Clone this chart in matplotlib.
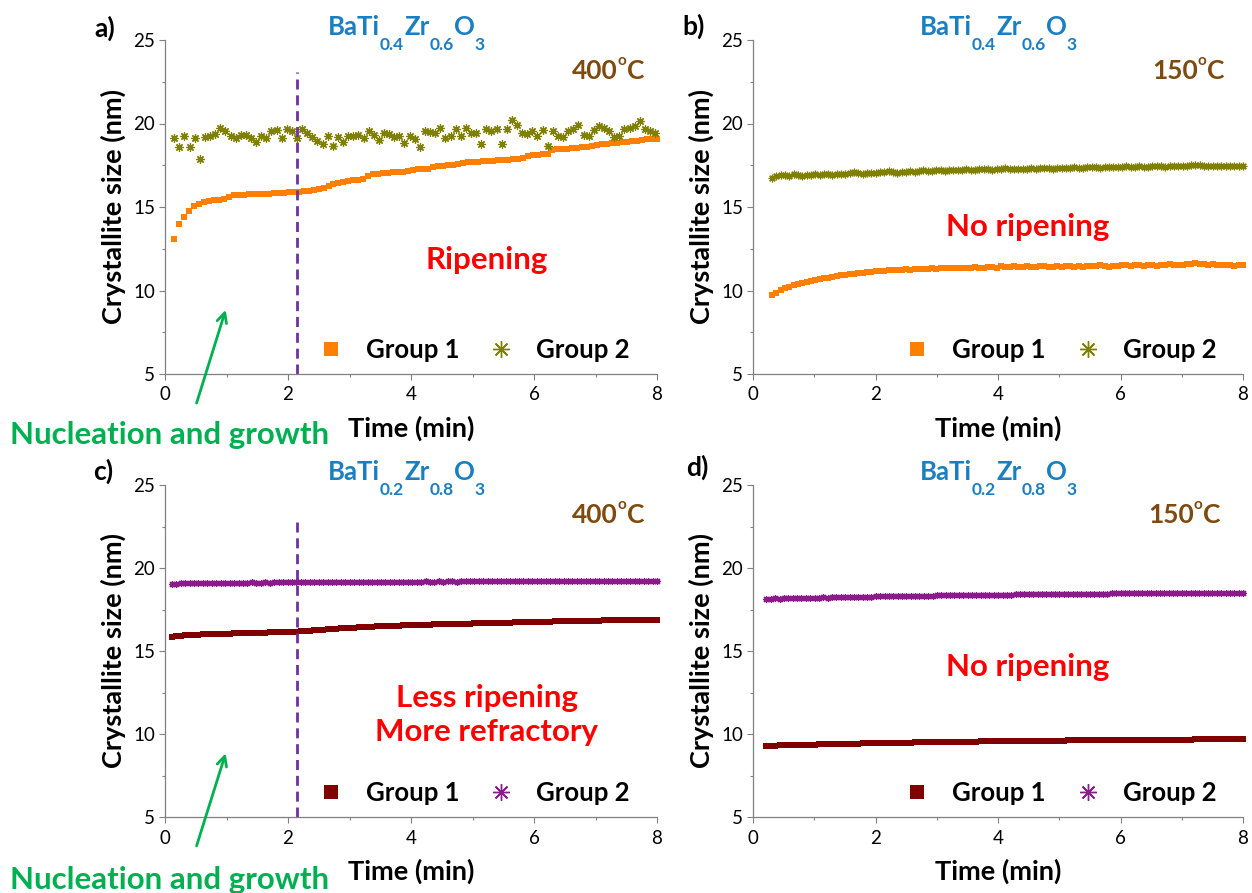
import matplotlib
matplotlib.use("Agg")
import matplotlib.pyplot as plt
import numpy as np

plt.rcParams['font.family'] = ['Lato', 'DejaVu Sans']

# ---- data: crystallite size (nm) vs time (min) ----
# a) BaTi0.4Zr0.6O3, 400 C
a_g1 = [13.07, 14.0, 14.38, 14.76, 15.08, 15.2, 15.3, 15.35, 15.4, 15.44,
        15.48, 15.62, 15.7, 15.72, 15.74, 15.75, 15.76, 15.78, 15.79, 15.8,
        15.82, 15.84, 15.86, 15.88, 15.9, 15.92, 15.95, 15.98, 16.0, 16.05,
        16.12, 16.25, 16.35, 16.45, 16.5, 16.55, 16.6, 16.63, 16.7, 16.85,
        16.97, 17.0, 17.02, 17.05, 17.07, 17.1, 17.12, 17.15, 17.2, 17.25,
        17.28, 17.3, 17.42, 17.45, 17.47, 17.5, 17.52, 17.55, 17.65, 17.68,
        17.7, 17.72, 17.74, 17.76, 17.78, 17.8, 17.82, 17.84, 17.86, 17.9,
        17.95, 18.05, 18.1, 18.12, 18.15, 18.2, 18.4, 18.45, 18.48, 18.5,
        18.53, 18.56, 18.58, 18.6, 18.63, 18.72, 18.78, 18.8, 18.83, 18.86,
        18.9, 18.92, 18.95, 18.98, 19.02, 19.05, 19.08, 19.1]
a_g2 = [19.14, 18.6, 19.28, 18.6, 19.14, 17.85, 19.2, 19.28, 19.4, 19.74,
        19.54, 19.24, 19.14, 19.34, 19.34, 19.14, 18.88, 19.28, 19.14, 19.54,
        19.6, 19.14, 19.68, 19.54, 19.14, 19.68, 19.44, 19.2, 18.94, 18.75,
        19.24, 18.65, 19.2, 18.88, 19.28, 19.24, 19.34, 19.14, 19.54, 19.34,
        19.04, 19.44, 19.4, 19.2, 19.28, 18.84, 19.28, 19.08, 18.6, 19.54,
        19.48, 19.44, 19.74, 19.14, 19.24, 19.68, 19.28, 19.74, 19.44, 19.44,
        18.75, 19.68, 19.54, 19.68, 18.75, 19.68, 20.2, 19.94, 19.44, 19.4,
        19.54, 19.28, 19.64, 18.68, 19.54, 19.28, 19.2, 19.54, 19.68, 19.94,
        19.34, 19.28, 19.64, 19.84, 19.74, 19.54, 19.2, 19.28, 19.68, 19.74,
        19.84, 20.14, 19.68, 19.54, 19.44]
a_t1 = np.linspace(0.15, 8.0, len(a_g1))
a_t2 = np.linspace(0.15, 7.97, len(a_g2))

# b) BaTi0.4Zr0.6O3, 150 C
b_g1 = [9.72, 9.88, 10.02, 10.12, 10.22, 10.3, 10.38, 10.44, 10.52, 10.56,
        10.62, 10.68, 10.72, 10.76, 10.8, 10.86, 10.9, 10.93, 10.96, 11.0,
        11.05, 11.04, 11.1, 11.12, 11.14, 11.16, 11.15, 11.2, 11.22, 11.2,
        11.24, 11.26, 11.25, 11.28, 11.3, 11.27, 11.3, 11.32, 11.28, 11.33,
        11.35, 11.32, 11.36, 11.34, 11.37, 11.35, 11.33, 11.38, 11.36, 11.34,
        11.38, 11.4, 11.36, 11.44, 11.42, 11.38, 11.45, 11.43, 11.4, 11.46,
        11.42, 11.4, 11.44, 11.46, 11.41, 11.43, 11.45, 11.4, 11.44, 11.47,
        11.43, 11.46, 11.42, 11.48, 11.45, 11.44, 11.5, 11.46, 11.43, 11.47,
        11.45, 11.5, 11.55, 11.47, 11.52, 11.5, 11.46, 11.52, 11.5, 11.48,
        11.53, 11.5, 11.56, 11.52, 11.5, 11.55, 11.58, 11.6, 11.62, 11.58,
        11.6, 11.55, 11.58, 11.54, 11.52, 11.55, 11.5, 11.48, 11.52, 11.5]
b_g2 = [16.75, 16.85, 16.9, 16.92, 16.88, 16.95, 16.93, 16.86, 16.9, 16.94,
        16.96, 16.92, 16.95, 16.98, 16.94, 16.97, 17.0, 16.96, 17.04, 17.08,
        17.02, 17.0, 17.04, 17.06, 17.03, 17.07, 17.1, 17.15, 17.1, 17.06,
        17.1, 17.12, 17.14, 17.1, 17.16, 17.2, 17.18, 17.15, 17.2, 17.22,
        17.18, 17.2, 17.24, 17.2, 17.22, 17.26, 17.24, 17.22, 17.25, 17.28,
        17.26, 17.24, 17.28, 17.3, 17.32, 17.3, 17.28, 17.3, 17.27, 17.3,
        17.32, 17.3, 17.33, 17.35, 17.32, 17.3, 17.34, 17.36, 17.33, 17.35,
        17.38, 17.36, 17.34, 17.37, 17.4, 17.38, 17.36, 17.4, 17.42, 17.4,
        17.38, 17.41, 17.43, 17.4, 17.42, 17.44, 17.42, 17.4, 17.43, 17.45,
        17.44, 17.42, 17.45, 17.48, 17.46, 17.44, 17.47, 17.5, 17.52, 17.5,
        17.48, 17.46, 17.47, 17.45, 17.46, 17.44, 17.46, 17.45, 17.44, 17.46]
b_t = np.linspace(0.31, 8.0, len(b_g1))

# c) BaTi0.2Zr0.8O3, 400 C
c_g1 = [15.82, 15.88, 15.92, 15.95, 15.97, 15.98, 15.99, 16.0, 16.01, 16.02,
        16.03, 16.04, 16.04, 16.05, 16.06, 16.07, 16.07, 16.08, 16.09, 16.1,
        16.1, 16.11, 16.12, 16.13, 16.13, 16.14, 16.15, 16.16, 16.17, 16.18,
        16.2, 16.22, 16.24, 16.26, 16.28, 16.3, 16.32, 16.34, 16.36, 16.38,
        16.4, 16.41, 16.42, 16.44, 16.45, 16.46, 16.48, 16.49, 16.5, 16.51,
        16.52, 16.53, 16.54, 16.55, 16.56, 16.57, 16.58, 16.58, 16.59, 16.6,
        16.61, 16.61, 16.62, 16.63, 16.63, 16.64, 16.65, 16.65, 16.66, 16.67,
        16.67, 16.68, 16.69, 16.69, 16.7, 16.71, 16.71, 16.72, 16.73, 16.73,
        16.74, 16.75, 16.75, 16.76, 16.77, 16.77, 16.78, 16.78, 16.79, 16.8,
        16.8, 16.81, 16.81, 16.82, 16.82, 16.83, 16.83, 16.84, 16.84, 16.85,
        16.85, 16.86, 16.86, 16.86, 16.87, 16.87, 16.88, 16.88, 16.88, 16.89]
c_g2 = [19.04, 19.06, 19.08, 19.07, 19.09, 19.1, 19.08, 19.1, 19.11, 19.1,
        19.1, 19.11, 19.12, 19.1, 19.11, 19.12, 19.11, 19.12, 19.13, 19.12,
        19.12, 19.13, 19.12, 19.13, 19.14, 19.13, 19.14, 19.13, 19.14, 19.15,
        19.14, 19.15, 19.14, 19.15, 19.15, 19.16, 19.15, 19.16, 19.15, 19.16,
        19.16, 19.17, 19.16, 19.16, 19.17, 19.16, 19.17, 19.17, 19.18, 19.17,
        19.17, 19.18, 19.17, 19.18, 19.18, 19.17, 19.18, 19.19, 19.18, 19.18,
        19.19, 19.18, 19.19, 19.19, 19.18, 19.19, 19.2, 19.19, 19.19, 19.2,
        19.19, 19.2, 19.2, 19.19, 19.2, 19.21, 19.2, 19.2, 19.21, 19.2,
        19.21, 19.2, 19.21, 19.21, 19.2, 19.21, 19.22, 19.21, 19.21, 19.22,
        19.21, 19.22, 19.21, 19.22, 19.22, 19.21, 19.22, 19.23, 19.22, 19.22,
        19.23, 19.22, 19.23, 19.22, 19.23, 19.23, 19.22, 19.23, 19.24, 19.23]
c_t = np.linspace(0.11, 8.0, len(c_g1))

# d) BaTi0.2Zr0.8O3, 150 C
d_g1 = [9.28, 9.29, 9.3, 9.31, 9.31, 9.32, 9.33, 9.33, 9.34, 9.35,
        9.35, 9.36, 9.37, 9.37, 9.38, 9.39, 9.39, 9.4, 9.4, 9.41,
        9.42, 9.42, 9.43, 9.43, 9.44, 9.44, 9.45, 9.45, 9.46, 9.46,
        9.47, 9.47, 9.48, 9.48, 9.49, 9.49, 9.5, 9.5, 9.5, 9.51,
        9.51, 9.52, 9.52, 9.52, 9.53, 9.53, 9.54, 9.54, 9.54, 9.55,
        9.55, 9.55, 9.56, 9.56, 9.56, 9.57, 9.57, 9.57, 9.58, 9.58,
        9.58, 9.58, 9.59, 9.59, 9.59, 9.6, 9.6, 9.6, 9.6, 9.61,
        9.61, 9.61, 9.61, 9.62, 9.62, 9.62, 9.62, 9.63, 9.63, 9.63,
        9.63, 9.63, 9.64, 9.64, 9.64, 9.64, 9.64, 9.65, 9.65, 9.65,
        9.65, 9.65, 9.66, 9.66, 9.66, 9.66, 9.66, 9.66, 9.67, 9.67,
        9.67, 9.67, 9.67, 9.67, 9.68, 9.68, 9.68, 9.68, 9.68, 9.68]
d_g2 = [18.13, 18.15, 18.17, 18.16, 18.18, 18.19, 18.18, 18.2, 18.21, 18.2,
        18.21, 18.22, 18.22, 18.23, 18.22, 18.24, 18.24, 18.25, 18.24, 18.26,
        18.26, 18.27, 18.26, 18.28, 18.28, 18.29, 18.29, 18.3, 18.29, 18.31,
        18.31, 18.32, 18.31, 18.32, 18.33, 18.33, 18.34, 18.33, 18.34, 18.35,
        18.35, 18.35, 18.36, 18.36, 18.36, 18.37, 18.37, 18.38, 18.37, 18.38,
        18.38, 18.39, 18.39, 18.39, 18.4, 18.4, 18.4, 18.41, 18.41, 18.41,
        18.42, 18.42, 18.42, 18.43, 18.43, 18.43, 18.44, 18.43, 18.44, 18.44,
        18.45, 18.44, 18.45, 18.45, 18.46, 18.45, 18.46, 18.46, 18.46, 18.47,
        18.47, 18.47, 18.47, 18.48, 18.48, 18.47, 18.48, 18.48, 18.49, 18.48,
        18.49, 18.49, 18.49, 18.5, 18.49, 18.5, 18.5, 18.5, 18.51, 18.5,
        18.51, 18.51, 18.5, 18.51, 18.52, 18.51, 18.52, 18.52, 18.51, 18.52]
d_t = np.linspace(0.22, 8.0, len(d_g1))

onset_time = 2.14      # end of nucleation & growth stage (min)

# ---- styles ----
ORANGE = '#ff8000'
OLIVE = '#808000'
DARKRED = '#800000'
PURPLE = '#8b1a8b'
BLUE = '#1a7fc1'
BROWN = '#7f4a10'
RED = '#ff0000'
GREEN = '#00b050'
STAR = (8, 2, 0)

W, H = 1252, 893
fig = plt.figure(figsize=(W / 100, H / 100), dpi=100)


def fx(px):
    return px / W


def fy(py):
    return 1 - py / H


def make_axes(left, top, right, bottom):
    ax = fig.add_axes([fx(left), fy(bottom), fx(right) - fx(left), fy(top) - fy(bottom)])
    ax.set_xlim(0, 8)
    ax.set_ylim(5, 25)
    ax.set_xticks([0, 2, 4, 6, 8])
    ax.set_xticks([1, 3, 5, 7], minor=True)
    ax.set_yticks([5, 10, 15, 20, 25])
    ax.set_yticks([7.5, 12.5, 17.5, 22.5], minor=True)
    for s in ['top', 'right']:
        ax.spines[s].set_visible(False)
    for s in ['left', 'bottom']:
        ax.spines[s].set_color('#808080')
        ax.spines[s].set_linewidth(0.9)
    ax.tick_params(which='major', direction='out', length=4, width=0.8,
                   color='#808080', labelsize=13.5, pad=3)
    ax.tick_params(which='minor', direction='out', length=2.5, width=0.8,
                   color='#808080')
    ax.tick_params(axis='x', pad=5)
    ax.set_xlabel('Time (min)', fontsize=19.5, fontweight='bold', va='top')
    ax.set_ylabel('Crystallite size (nm)', fontsize=19.5, fontweight='bold')
    ax.xaxis.set_label_coords(0.5, -0.125)
    ax.yaxis.set_label_coords(-0.08, 0.5)
    return ax


def draw_panel(ax, t1, g1, t2, g2, c1, c2, ms1, ms2):
    ax.plot(t1, g1, ls='none', marker='s', ms=ms1, color=c1, mec=c1, mew=0,
            label='Group 1', clip_on=False)
    ax.plot(t2, g2, ls='none', marker=STAR, ms=ms2, color=c2, mec=c2, mew=0.9,
            label='Group 2', clip_on=False)
    leg = ax.legend(loc='center right', ncol=2, frameon=False,
                    prop={'weight': 'bold', 'size': 18.5}, handlelength=1.0,
                    handletextpad=0.86, columnspacing=1.14, borderpad=0,
                    borderaxespad=0, bbox_to_anchor=(0.945, 0.072))
    hs = leg.legend_handles
    hs[0].set_markersize(10)
    hs[1].set_markersize(12)
    hs[1].set_markeredgewidth(1.0)


def chain(ax, x0, pieces, color):
    # lay out text pieces left to right; each piece is (text, size, baseline_px)
    prev = None
    for s, size, base in pieces:
        ybase = H - base
        if prev is None:
            prev = ax.annotate(s, xy=(x0, ybase), xycoords='figure pixels',
                               fontsize=size, fontweight='bold', color=color,
                               ha='left', va='baseline', annotation_clip=False)
        else:
            prev = ax.annotate(s, xy=(1, ybase), xycoords=(prev, 'figure pixels'),
                               fontsize=size, fontweight='bold', color=color,
                               ha='left', va='baseline', annotation_clip=False)


ax_a = make_axes(165, 40, 657, 374)
ax_b = make_axes(753, 40, 1243, 374)
ax_c = make_axes(165, 485, 657, 817)
ax_d = make_axes(753, 485, 1243, 817)

draw_panel(ax_a, a_t1, a_g1, a_t2, a_g2, ORANGE, OLIVE, 5.0, 6.0)
draw_panel(ax_b, b_t, b_g1, b_t, b_g2, ORANGE, OLIVE, 5.0, 5.5)
draw_panel(ax_c, c_t, c_g1, c_t, c_g2, DARKRED, PURPLE, 4.8, 5.0)
draw_panel(ax_d, d_t, d_g1, d_t, d_g2, DARKRED, PURPLE, 4.8, 5.0)

# nucleation boundary and arrows
for ax in (ax_a, ax_c):
    ax.plot([onset_time, onset_time], [5, 23.1], ls=(0, (3.6, 2.1)),
            color='#7030a0', lw=2.0)
    ax.annotate('', xy=(1.0, 9.0), xytext=(0.5, 3.1), annotation_clip=False,
                arrowprops=dict(arrowstyle='->,head_length=0.7,head_width=0.35',
                                color=GREEN, lw=2.0))

# panel letters
fig.text(fx(105), fy(28), 'a)', fontsize=19, fontweight='bold', ha='center', va='center')
fig.text(fx(694), fy(26), 'b)', fontsize=19, fontweight='bold', ha='center', va='center')
fig.text(fx(103), fy(471), 'c)', fontsize=19, fontweight='bold', ha='center', va='center')
fig.text(fx(697), fy(467), 'd)', fontsize=19, fontweight='bold', ha='center', va='center')

# compositions with dropped subscripts
for ax, x0, top, subs in [(ax_a, 328, 35, ('0.4', '0.6')), (ax_b, 920, 35, ('0.4', '0.6')),
                          (ax_c, 328, 480, ('0.2', '0.8')), (ax_d, 920, 480, ('0.2', '0.8'))]:
    chain(ax, x0, [('BaTi', 18.5, top), (subs[0], 12.5, top + 15), ('Zr', 18.5, top),
                   (subs[1], 12.5, top + 15), ('O', 18.5, top), ('3', 12.5, top + 15)], BLUE)

# temperatures
for ax, x0, base, temp in [(ax_a, 572, 79, '400'), (ax_b, 1152, 79, '150'),
                           (ax_c, 572, 523, '400'), (ax_d, 1148, 523, '150')]:
    chain(ax, x0, [(temp, 19, base), ('o', 11, base - 14), ('C', 19, base)], BROWN)

# stage notes
fig.text(fx(487), fy(260), 'Ripening', fontsize=22.5, fontweight='bold', color=RED, ha='center', va='center')
fig.text(fx(1028), fy(227), 'No ripening', fontsize=22.5, fontweight='bold', color=RED, ha='center', va='center')
fig.text(fx(487), fy(715), 'Less ripening\nMore refractory', fontsize=22.5, fontweight='bold',
         color=RED, ha='center', va='center', linespacing=1.3)
fig.text(fx(1028), fy(667), 'No ripening', fontsize=22.5, fontweight='bold', color=RED, ha='center', va='center')

fig.text(fx(170), fy(435), 'Nucleation and growth', fontsize=22.5, fontweight='bold', color=GREEN,
         ha='center', va='center')
fig.text(fx(170), fy(880), 'Nucleation and growth', fontsize=22.5, fontweight='bold', color=GREEN,
         ha='center', va='center')

fig.savefig('out.png', dpi=100, facecolor='white')
